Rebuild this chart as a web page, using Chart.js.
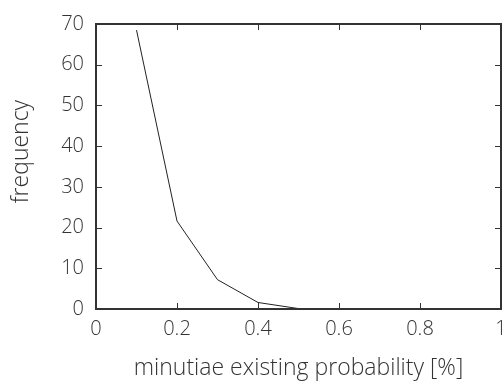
<!DOCTYPE html>
<html>
<head>
<meta charset="utf-8">
<script src="https://cdn.jsdelivr.net/npm/chart.js@4/dist/chart.umd.min.js"></script>
<style>
  html, body { margin: 0; padding: 0; background: #fff; }
  #wrap { width: 502px; height: 382px; }
</style>
</head>
<body>
<div id="wrap"><canvas id="grafico" width="502" height="382"></canvas></div>
<script>
const probabilidade = [0.1, 0.2, 0.3, 0.4, 0.5, 0.6, 0.7, 0.8, 0.9, 1.0];
const frequencia = [68.5, 21.6, 7.2, 1.6, 0.1, 0.1, 0.05, 0.05, 0, 0];
const ticksX = [0, 0.2, 0.4, 0.6, 0.8, 1];
const ticksY = [0, 10, 20, 30, 40, 50, 60, 70];

const fonte = { family: '"Open Sans", "Liberation Sans", sans-serif', size: 20, weight: '300' };
const fonteTitulo = { family: '"Open Sans", "Liberation Sans", sans-serif', size: 23, weight: '300' };
const cor = '#333';

// moldura e ticks para dentro nos quatro lados
const moldura = {
    id: 'moldura',
    afterDraw(chart) {
        const { ctx, chartArea: a, scales: { x, y } } = chart;
        ctx.save();
        ctx.strokeStyle = cor;
        ctx.lineWidth = 2;
        ctx.strokeRect(a.left, a.top, a.right - a.left, a.bottom - a.top);
        ctx.lineWidth = 1;
        ctx.beginPath();
        ticksX.forEach(v => {
            const px = Math.round(x.getPixelForValue(v)) + 0.5;
            ctx.moveTo(px, a.bottom); ctx.lineTo(px, a.bottom - 6);
            ctx.moveTo(px, a.top); ctx.lineTo(px, a.top + 6);
        });
        ticksY.forEach(v => {
            const py = Math.round(y.getPixelForValue(v)) + 0.5;
            ctx.moveTo(a.left, py); ctx.lineTo(a.left + 6, py);
            ctx.moveTo(a.right, py); ctx.lineTo(a.right - 6, py);
        });
        ctx.stroke();
        ctx.restore();
    }
};

new Chart(document.getElementById('grafico'), {
    type: 'line',
    data: {
        datasets: [{
            data: probabilidade.map((p, i) => ({ x: p, y: frequencia[i] })),
            borderColor: '#222',
            borderWidth: 1,
            pointRadius: 0,
            fill: false,
            tension: 0
        }]
    },
    options: {
        responsive: false,
        animation: false,
        layout: { padding: { top: 24, right: 1, left: 0, bottom: 0 } },
        plugins: { legend: { display: false }, tooltip: { enabled: false } },
        scales: {
            x: {
                type: 'linear',
                min: 0, max: 1,
                afterBuildTicks: s => { s.ticks = ticksX.map(v => ({ value: v })); },
                afterFit: s => { s.height = 73; s.paddingLeft = 0; s.paddingRight = 0; },
                grid: { display: false, drawTicks: false },
                border: { display: false },
                ticks: {
                    color: cor, font: fonte, padding: 8,
                    callback: v => String(v)
                },
                title: {
                    display: true, text: 'minutiae existing probability [%]',
                    color: cor, font: fonteTitulo, padding: { top: 2, bottom: 0 }
                }
            },
            y: {
                min: 0, max: 70,
                afterBuildTicks: s => { s.ticks = ticksY.map(v => ({ value: v })); },
                afterFit: s => { s.width = 96; },
                grid: { display: false, drawTicks: false },
                border: { display: false },
                ticks: { color: cor, font: fonte, padding: 12 },
                title: {
                    display: true, text: '     frequency',
                    color: cor, font: fonteTitulo, padding: { top: 8, bottom: 6 }
                }
            }
        }
    },
    plugins: [moldura]
});
</script>
</body>
</html>
